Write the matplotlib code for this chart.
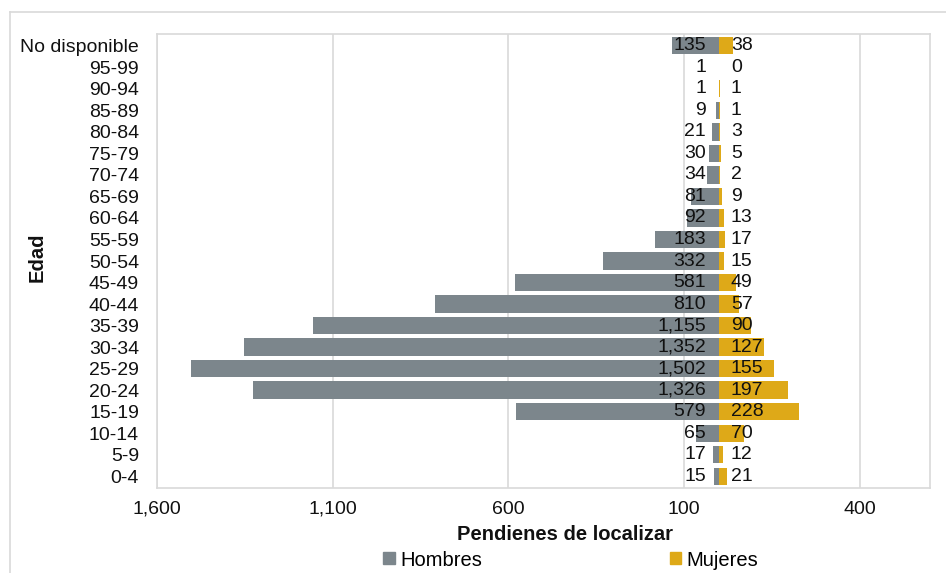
import matplotlib.pyplot as plt
from matplotlib.patches import Patch
from matplotlib.ticker import FuncFormatter
from matplotlib.lines import Line2D

grupos = ["0-4", "5-9", "10-14", "15-19", "20-24", "25-29", "30-34", "35-39",
          "40-44", "45-49", "50-54", "55-59", "60-64", "65-69", "70-74",
          "75-79", "80-84", "85-89", "90-94", "95-99", "No disponible"]
hombres = [15, 17, 65, 579, 1326, 1502, 1352, 1155, 810, 581, 332, 183,
           92, 81, 34, 30, 21, 9, 1, 1, 135]
mujeres = [21, 12, 70, 228, 197, 155, 127, 90, 57, 49, 15, 17,
           13, 9, 2, 5, 3, 1, 1, 0, 38]
ticks = [-1600, -1100, -600, -100, 400]

GRIS = "#7c868c"
ORO = "#dea918"
BORDE = "#d9d9d9"
TXT = "#111111"

plt.rcParams["font.family"] = ["Liberation Sans", "DejaVu Sans"]

fig = plt.figure(figsize=(9.46, 5.73), dpi=100)
ax = fig.add_axes([157 / 946, 1 - 488 / 573, (930 - 157) / 946, (488 - 34) / 573])

y = range(len(grupos))
ax.barh(y, [-h for h in hombres], height=0.8, color=GRIS, zorder=2)
ax.barh(y, mujeres, height=0.8, color=ORO, zorder=2)

for i, (h, m) in enumerate(zip(hombres, mujeres)):
    ax.annotate(f"{h:,}", (0, i), xytext=(-9.5, 0), textcoords="offset points",
                ha="right", va="center", fontsize=14, color=TXT, zorder=3)
    ax.annotate(f"{m:,}", (0, i), xytext=(8.5, 0), textcoords="offset points",
                ha="left", va="center", fontsize=14, color=TXT, zorder=3)

ax.set_xlim(-1600, 600)
ax.set_ylim(-0.55, len(grupos) - 0.45)
ax.set_xticks(ticks)
ax.xaxis.set_major_formatter(FuncFormatter(lambda v, p: f"{abs(int(v)):,}"))
ax.set_yticks(list(y))
ax.set_yticklabels(grupos)
ax.tick_params(axis="both", length=0, labelsize=14, colors=TXT)
ax.tick_params(axis="x", pad=9)
ax.tick_params(axis="y", pad=13)
ax.grid(axis="x", color=BORDE, linewidth=1.2, zorder=0)
for s in ax.spines.values():
    s.set_color(BORDE)
    s.set_linewidth(1.2)

fig.text(565 / 946, 1 - 535 / 573, "Pendienes de localizar", ha="center", va="center",
         fontsize=14.5, fontweight="bold", color=TXT)
fig.text(37 / 946, 1 - 257 / 573, "Edad", ha="center", va="center", rotation=90,
         fontsize=14.5, fontweight="bold", color=TXT)

fig.legend(handles=[Patch(color=GRIS, label="Hombres"), Patch(color=ORO, label="Mujeres")],
           loc="center", bbox_to_anchor=(571 / 946, 1 - 560 / 573), ncol=2, frameon=False,
           fontsize=14.5, handlelength=0.55, handleheight=0.55, handletextpad=0.3,
           columnspacing=9.3, borderpad=0)

# marco exterior del grafico
fig.add_artist(Line2D([10 / 946, 1], [1 - 12 / 573, 1 - 12 / 573], color=BORDE, linewidth=1.2))
fig.add_artist(Line2D([10 / 946, 10 / 946], [0, 1 - 12 / 573], color=BORDE, linewidth=1.2))

fig.savefig("out.png", dpi=100)
